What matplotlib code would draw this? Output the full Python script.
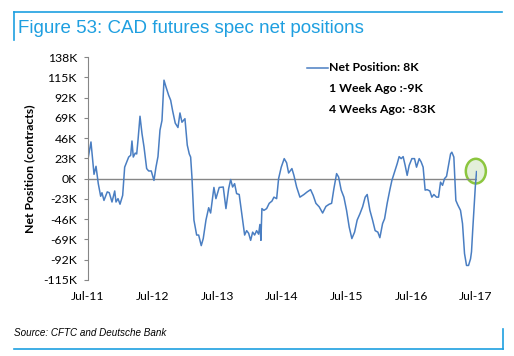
import matplotlib
matplotlib.use('Agg')
import matplotlib.pyplot as plt
from matplotlib.lines import Line2D
from matplotlib.patches import Ellipse

# =========================================================
# DATA (x in decimal years, y in K contracts)
# =========================================================

years = [
    2011.505, 2011.546, 2011.593, 2011.624, 2011.659, 2011.696, 2011.716, 2011.747,
    2011.798, 2011.829, 2011.871, 2011.913, 2011.933, 2011.964, 2011.995, 2012.036,
    2012.067, 2012.129, 2012.160, 2012.180, 2012.200, 2012.231, 2012.253, 2012.273,
    2012.304, 2012.335, 2012.366, 2012.407, 2012.438, 2012.478, 2012.520, 2012.551,
    2012.582, 2012.613, 2012.644, 2012.675, 2012.706, 2012.747, 2012.778, 2012.809,
    2012.849, 2012.891, 2012.922, 2012.953, 2012.999, 2013.035, 2013.066, 2013.087,
    2013.107, 2013.138, 2013.180, 2013.211, 2013.251, 2013.282, 2013.324, 2013.366,
    2013.396, 2013.447, 2013.478, 2013.529, 2013.591, 2013.633, 2013.675, 2013.706,
    2013.736, 2013.767, 2013.798, 2013.838, 2013.891, 2013.922, 2013.953, 2013.984,
    2014.015, 2014.046, 2014.076, 2014.107, 2014.138, 2014.158, 2014.174, 2014.189,
    2014.220, 2014.262, 2014.302, 2014.344, 2014.375, 2014.417, 2014.447, 2014.488,
    2014.534, 2014.571, 2014.602, 2014.653, 2014.684, 2014.726, 2014.777, 2014.839,
    2014.890, 2014.942, 2014.982, 2015.024, 2015.075, 2015.128, 2015.179, 2015.230,
    2015.267, 2015.302, 2015.344, 2015.375, 2015.415, 2015.457, 2015.498, 2015.539,
    2015.580, 2015.622, 2015.662, 2015.704, 2015.746, 2015.786, 2015.817, 2015.859,
    2015.900, 2015.940, 2015.982, 2016.013, 2016.055, 2016.086, 2016.126, 2016.168,
    2016.199, 2016.240, 2016.281, 2016.311, 2016.342, 2016.373, 2016.404, 2016.435,
    2016.466, 2016.508, 2016.549, 2016.580, 2016.621, 2016.651, 2016.682, 2016.713,
    2016.744, 2016.786, 2016.817, 2016.848, 2016.889, 2016.920, 2016.951, 2016.982,
    2017.013, 2017.044, 2017.075, 2017.106, 2017.126, 2017.157, 2017.188, 2017.219,
    2017.260, 2017.291, 2017.322, 2017.353, 2017.384, 2017.415, 2017.430, 2017.449,
    2017.469, 2017.489, 2017.508,
]

net_position = [
    24.5, 41.6, 4.9, 14, -5.7, -20, -16, -24.7,
    -15, -16, -26.5, -14, -26.5, -22.7, -29, -19,
    13, 24.5, 26.5, 42.7, 24.5, 29, 28, 43.5,
    70.8, 51, 36, 11.4, 8.7, 8.7, -2, 13,
    25, 55, 66, 111.7, 104, 94.6, 89, 76.8,
    63, 58, 74.5, 64, 68, 38, 28, 24.5,
    2, -47, -64, -64, -76, -68, -47, -33,
    -39, -10, -22.7, -10, -9.5, -34, -11.4, -1,
    -9.5, -5.7, -17, -18, -47, -64, -59, -62,
    -70, -60.7, -64, -59, -63, -52, -70, -34,
    -36, -34, -28, -25.5, -21, -22.7, 0, 13,
    22.7, 18, 6.4, 11.4, 3.7, -9.5, -21, -18,
    -15, -12.5, -19, -28, -32, -39, -31.5, -29,
    -28, -11.4, 5.7, 1.8, -13, -21, -36, -55,
    -68, -60.7, -47, -40, -32, -21, -18, -36,
    -47, -59, -60.7, -67, -51, -45.5, -28, -12.5,
    -2, 7.5, 17, 25, 22.7, 25, 15, 3.7,
    15, 22.7, 22.7, 13, 22.7, 19, 13, -13,
    -12.5, -14, -21, -18, -21, -21, -4, -7.6,
    0, 2.6, 15, 28, 30, 24.5, -24.7, -30,
    -36, -51, -85, -98.5, -98.5, -91, -83, -58,
    -34, -9, 8,
]

y_ticks = [138, 115, 92, 69, 46, 23, 0, -23, -46, -69, -92, -115]
x_ticks = [2011.5, 2012.5, 2013.5, 2014.5, 2015.5, 2016.5, 2017.5]
x_labels = ['Jul-11', 'Jul-12', 'Jul-13', 'Jul-14', 'Jul-15', 'Jul-16', 'Jul-17']

legend_lines = ['Net Position: 8K', '1 Week Ago :-9K', '4 Weeks Ago: -83K']

# =========================================================
# STYLE
# =========================================================

W, H = 514, 356
BLUE_FRAME = '#1E9FE0'
LINE_BLUE = '#4A7EC2'
GRAY = '#868686'
FS = 8.8

plt.rcParams['font.family'] = ['Lato', 'DejaVu Sans']

fig = plt.figure(figsize=(W / 100, H / 100), dpi=100)

def px(x, y):
    return x / W, 1 - y / H

# =========================================================
# FRAME + TITLE
# =========================================================

fig.add_artist(Line2D([px(14, 0)[0], px(502, 0)[0]], [px(0, 12)[1]] * 2,
                      color=BLUE_FRAME, lw=1.2))
fig.add_artist(Line2D([px(14, 0)[0]] * 2, [px(0, 12)[1], px(0, 40)[1]],
                      color=BLUE_FRAME, lw=1.2))
fig.add_artist(Line2D([px(14, 0)[0], px(503, 0)[0]], [px(0, 349)[1]] * 2,
                      color=BLUE_FRAME, lw=1.2))
fig.add_artist(Line2D([px(503, 0)[0]] * 2, [px(0, 329)[1], px(0, 349)[1]],
                      color=BLUE_FRAME, lw=1.2))

fig.text(*px(18, 33), 'Figure 53: CAD futures spec net positions',
         family='Liberation Sans', fontsize=13.5, color=BLUE_FRAME,
         ha='left', va='baseline')

fig.text(*px(14, 333), 'Source: CFTC and Deutsche Bank',
         family='Liberation Sans', style='italic', fontsize=7.1,
         color='black', ha='left', va='center')

# =========================================================
# AXES
# =========================================================

left, right = 88, 477
top, bottom = 57, 280
ax = fig.add_axes([left / W, 1 - bottom / H, (right - left) / W, (bottom - top) / H])

ax.plot(years, net_position, color=LINE_BLUE, lw=1.1)
ax.axhline(0, color=GRAY, lw=1.0, zorder=1)

ax.set_xlim(2011.5, 2017.515)
ax.set_ylim(-115, 138)

ax.set_yticks(y_ticks)
ax.set_yticklabels([f'{v}K' for v in y_ticks], fontsize=FS)
ax.set_xticks(x_ticks)
ax.set_xticklabels(x_labels, fontsize=FS)

for side in ['top', 'right', 'bottom']:
    ax.spines[side].set_visible(False)
ax.spines['left'].set_color(GRAY)
ax.tick_params(axis='y', length=3, color=GRAY, pad=5)
ax.tick_params(axis='x', length=0, pad=8)

ax.set_ylabel('Net Position (contracts)', fontsize=FS, fontweight='bold')
ax.yaxis.set_label_coords((35 - left) / (right - left), 0.5)

# green highlight circle on the last value
ax.add_patch(Ellipse((2017.497, 8.5), 0.31, 28, facecolor='#E3EFDA',
                     edgecolor='#8CC63F', lw=1.8, clip_on=False, zorder=0.5))

# =========================================================
# LEGEND (manual)
# =========================================================

fig.add_artist(Line2D([px(307, 0)[0], px(328, 0)[0]], [px(0, 67.5)[1]] * 2,
                      color=LINE_BLUE, lw=1.1))
for txt, yy in zip(legend_lines, [67.5, 88, 109.5]):
    fig.text(*px(329, yy), txt, fontsize=FS, fontweight='bold',
             ha='left', va='center')

fig.savefig('out.png', dpi=100)
